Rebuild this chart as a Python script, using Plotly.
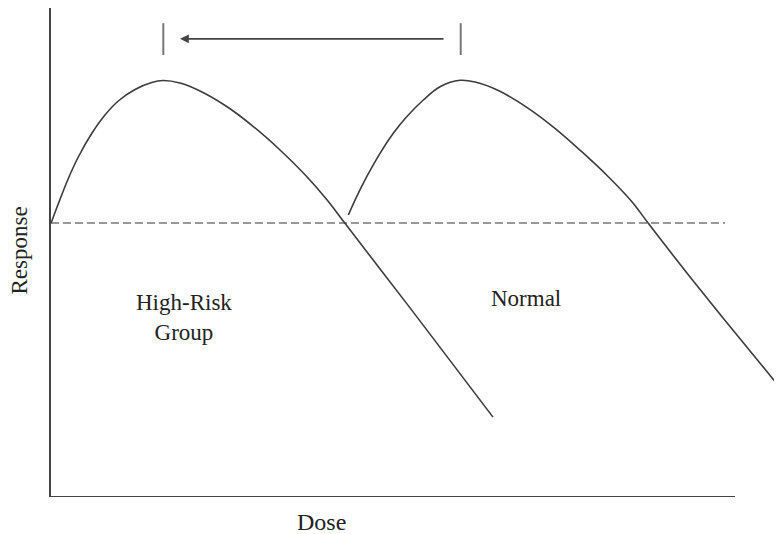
import plotly.graph_objects as go

# Conceptual dose-response curves (arbitrary units)
high_risk_dose = [0.00, 0.107, 0.253, 0.399, 0.595, 0.789, 0.984, 1.228, 1.472, 1.637,
                  1.886, 2.178, 2.569, 2.958, 3.348, 3.738, 4.031, 4.298, 4.708, 5.249, 6.462]
high_risk_resp = [5.586, 5.984, 6.500, 6.939, 7.418, 7.796, 8.082, 8.316, 8.459, 8.500,
                  8.449, 8.286, 7.969, 7.561, 7.082, 6.541, 6.071, 5.586, 4.84, 3.86, 1.63]

normal_dose = [4.347, 4.469, 4.616, 4.810, 5.004, 5.200, 5.443, 5.687, 5.980, 6.199,
               6.540, 6.978, 7.368, 7.759, 8.148, 8.490, 8.732, 9.240, 9.825, 10.687]
normal_resp = [5.755, 6.129, 6.537, 7.014, 7.422, 7.761, 8.102, 8.373, 8.504, 8.469,
               8.296, 7.933, 7.524, 7.047, 6.537, 6.031, 5.586, 4.673, 3.653, 2.184]

baseline_dose = [0.0, 9.854]
baseline_resp = [5.59, 5.59]

peak_marks_dose = [1.642, 5.990]
mark_resp_low, mark_resp_high = 9.02, 9.67
arrow_resp = 9.35
arrow_from, arrow_to = 5.760, 1.886

axis_x_end = 10.0
x_range = [0, 10.687]
y_range = [0, 9.98]

FONT = "Liberation Serif"
CURVE = "#3c3c3c"

fig = go.Figure()

fig.add_trace(go.Scatter(x=baseline_dose, y=baseline_resp, mode="lines",
                         line=dict(color="#777777", width=1.5, dash="8px,4px"),
                         hoverinfo="skip"))
fig.add_trace(go.Scatter(x=high_risk_dose, y=high_risk_resp, mode="lines",
                         line=dict(color=CURVE, width=1.6, shape="spline", smoothing=1.0),
                         name="High-Risk Group"))
fig.add_trace(go.Scatter(x=normal_dose, y=normal_resp, mode="lines",
                         line=dict(color=CURVE, width=1.6, shape="spline", smoothing=1.0),
                         name="Normal"))
for xd in peak_marks_dose:
    fig.add_trace(go.Scatter(x=[xd, xd], y=[mark_resp_low, mark_resp_high], mode="lines",
                             line=dict(color="#777777", width=2), hoverinfo="skip"))
# x axis line (stops short of right edge)
fig.add_trace(go.Scatter(x=[0, axis_x_end], y=[0, 0], mode="lines",
                         line=dict(color="#444444", width=2), hoverinfo="skip"))

fig.add_annotation(x=arrow_to, y=arrow_resp, ax=arrow_from, ay=arrow_resp,
                   xref="x", yref="y", axref="x", ayref="y",
                   showarrow=True, arrowhead=2, arrowsize=1.1, arrowwidth=1.6,
                   arrowcolor="#444444", text="")

fig.add_annotation(x=1.944, y=3.67, xref="x", yref="y", text="High-Risk<br>Group",
                   showarrow=False, font=dict(family=FONT, size=23, color="#222222"))
fig.add_annotation(x=6.944, y=4.06, xref="x", yref="y", text="Normal",
                   showarrow=False, font=dict(family=FONT, size=23, color="#222222"))
fig.add_annotation(x=0.370, y=0, xref="paper", yref="paper", xanchor="center",
                   yanchor="middle", yshift=-25, text="Dose",
                   showarrow=False, font=dict(family=FONT, size=24, color="#222222"))
fig.add_annotation(x=0, y=0.504, xref="paper", yref="paper", xanchor="center",
                   yanchor="middle", xshift=-31, text="Response",
                   textangle=-90, showarrow=False, borderpad=0,
                   font=dict(family=FONT, size=23, color="#222222"))

fig.update_layout(
    width=782, height=534,
    margin=dict(l=43, r=8, t=0, b=45),
    paper_bgcolor="white", plot_bgcolor="white",
    showlegend=False,
    xaxis=dict(range=x_range, showgrid=False, zeroline=False, showticklabels=False,
               ticks="", showline=False, fixedrange=True),
    yaxis=dict(range=y_range, showgrid=False, zeroline=False, showticklabels=False,
               ticks="", showline=True, linecolor="#444444", linewidth=2, fixedrange=True),
)

fig.write_html("out.html")
